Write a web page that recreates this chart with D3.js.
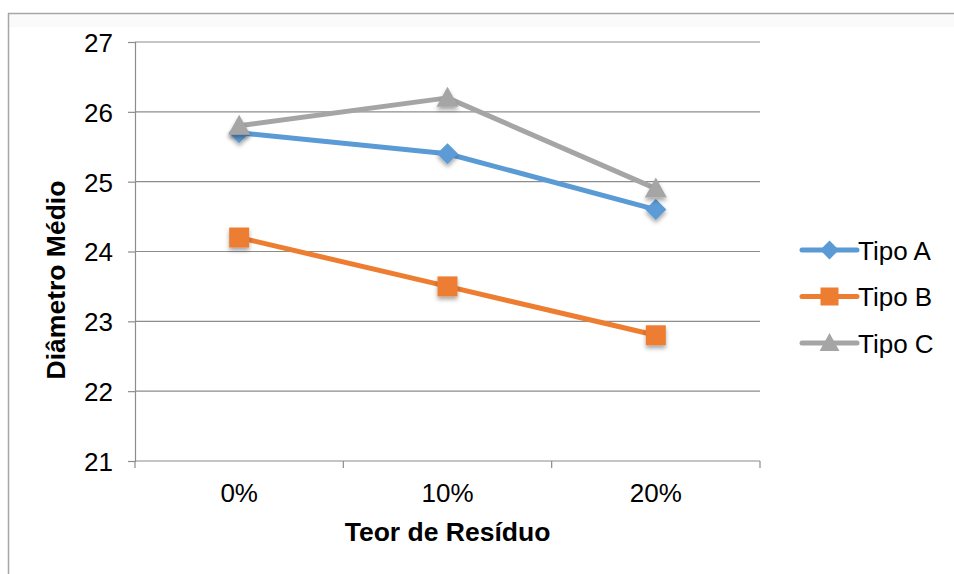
<!DOCTYPE html>
<html>
<head>
<meta charset="utf-8">
<script src="https://cdn.jsdelivr.net/npm/d3@7"></script>
<style>
  html, body { margin: 0; padding: 0; background: #fff; }
  svg { display: block; font-family: "Liberation Sans", Arial, sans-serif; }
</style>
</head>
<body>
<svg id="chart" width="954" height="574"></svg>
<script>
// Residue content categories and mean diameter per type
const categories = ["0%", "10%", "20%"];
const tipoA = [25.7, 25.4, 24.6];
const tipoB = [24.2, 23.5, 22.8];
const tipoC = [25.8, 26.2, 24.9];
const seriesNames = ["Tipo A", "Tipo B", "Tipo C"];
const seriesColors = ["#5B9BD5", "#ED7D31", "#A5A5A5"];
const yTicks = [21, 22, 23, 24, 25, 26, 27];

// Marker shapes: diamond, square, triangle
const diamond = r => `M0,${-r}L${r},0L0,${r}L${-r},0Z`;
const square = r => `M${-r},${-r}H${r}V${r}H${-r}Z`;
const triangle = r => `M0,${-r * 1.05}L${r * 1.05},${r * 0.85}L${-r * 1.05},${r * 0.85}Z`;
const shapes = [diamond, square, triangle];
const radii = [10.5, 10, 10.5];

const series = seriesNames.map((name, i) => ({
  name,
  values: [tipoA, tipoB, tipoC][i],
  color: seriesColors[i],
  shape: shapes[i],
  r: radii[i]
}));

const svg = d3.select("#chart");
const plot = { left: 135, right: 760, top: 42, bottom: 461 };
const labelFont = 26;

// Chart frame
svg.append("rect").attr("x", 8).attr("y", 14).attr("width", 946).attr("height", 13)
  .attr("fill", "#fafafa");
svg.append("line").attr("x1", 8).attr("x2", 954).attr("y1", 13.5).attr("y2", 13.5)
  .attr("stroke", "#a6a6a6").attr("stroke-width", 1.5);
svg.append("line").attr("x1", 8.5).attr("x2", 8.5).attr("y1", 13).attr("y2", 574)
  .attr("stroke", "#a6a6a6").attr("stroke-width", 1.5);

// Soft shadow for markers
const defs = svg.append("defs");
const f = defs.append("filter").attr("id", "shadow")
  .attr("x", "-60%").attr("y", "-60%").attr("width", "220%").attr("height", "220%");
f.append("feDropShadow").attr("dx", 0).attr("dy", 3).attr("stdDeviation", 2.2)
  .attr("flood-color", "#000").attr("flood-opacity", 0.35);

const x = d3.scaleBand().domain(categories).range([plot.left, plot.right]);
const y = d3.scaleLinear().domain([21, 27]).range([plot.bottom, plot.top]);

// Horizontal gridlines
svg.append("g").selectAll("line").data(yTicks.filter(t => t !== 21)).join("line")
  .attr("x1", plot.left).attr("x2", plot.right)
  .attr("y1", d => y(d)).attr("y2", d => y(d))
  .attr("stroke", "#8c8c8c").attr("stroke-width", 1.2);

// Y axis
const yAxis = svg.append("g").attr("transform", `translate(${plot.left},0)`)
  .call(d3.axisLeft(y).tickValues(yTicks).tickSize(7).tickPadding(15).tickFormat(d3.format("d")));
yAxis.attr("font-size", null).attr("font-family", null);
yAxis.select(".domain").attr("stroke", "#8c8c8c").attr("stroke-width", 1.2);
yAxis.selectAll(".tick line").attr("stroke", "#8c8c8c").attr("stroke-width", 1.2);
yAxis.selectAll(".tick text").attr("font-size", labelFont).attr("fill", "#000").attr("dy", "0.36em");

// X axis with ticks on category boundaries
const xAxisG = svg.append("g").attr("transform", `translate(0,${plot.bottom})`);
xAxisG.append("line").attr("x1", plot.left).attr("x2", plot.right).attr("y1", 0).attr("y2", 0)
  .attr("stroke", "#8c8c8c").attr("stroke-width", 1.2);
const bounds = categories.map(c => x(c)).concat([x(categories[categories.length - 1]) + x.bandwidth()]);
xAxisG.selectAll("line.tk").data(bounds).join("line").attr("class", "tk")
  .attr("x1", d => d).attr("x2", d => d).attr("y1", 0).attr("y2", 7)
  .attr("stroke", "#8c8c8c").attr("stroke-width", 1.2);
xAxisG.selectAll("text").data(categories).join("text")
  .attr("x", d => x(d) + x.bandwidth() / 2).attr("y", 41)
  .attr("text-anchor", "middle").attr("font-size", labelFont).attr("fill", "#000")
  .text(d => d);

// Axis titles
svg.append("text").attr("x", (plot.left + plot.right) / 2).attr("y", 541)
  .attr("text-anchor", "middle").attr("font-size", 26.5).attr("font-weight", "bold")
  .text("Teor de Resíduo");
svg.append("text").attr("transform", `translate(65,280) rotate(-90)`)
  .attr("text-anchor", "middle").attr("font-size", 26.5).attr("font-weight", "bold")
  .text("Diâmetro Médio");

const cx = d => x(d) + x.bandwidth() / 2;
const line = d3.line().x((v, i) => cx(categories[i])).y(v => y(v));

// Lines
series.forEach(s => {
  svg.append("path").datum(s.values).attr("d", line)
    .attr("fill", "none").attr("stroke", s.color).attr("stroke-width", 5)
    .attr("stroke-linejoin", "round").attr("stroke-linecap", "round");
});

// Markers
series.forEach(s => {
  svg.append("g").attr("filter", "url(#shadow)").selectAll("path").data(s.values).join("path")
    .attr("transform", (v, i) => `translate(${cx(categories[i])},${y(v)})`)
    .attr("d", s.shape(s.r))
    .attr("fill", s.color);
});

// Legend
const legend = svg.append("g");
series.forEach((s, i) => {
  const ly = 250 + i * 46.5;
  const g = legend.append("g");
  g.append("line").attr("x1", 802).attr("x2", 857).attr("y1", ly).attr("y2", ly)
    .attr("stroke", s.color).attr("stroke-width", 5).attr("stroke-linecap", "round");
  g.append("path").attr("transform", `translate(829.5,${ly})`)
    .attr("d", s.shape(s.r * 0.9))
    .attr("fill", s.color);
  g.append("text").attr("x", 858).attr("y", ly + 9.5).attr("font-size", labelFont).attr("fill", "#000")
    .text(s.name);
});
</script>
</body>
</html>
